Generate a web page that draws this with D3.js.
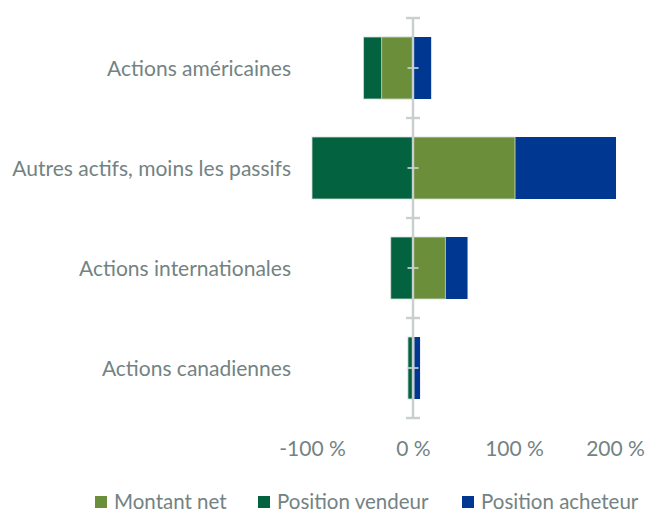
<!DOCTYPE html>
<html>
<head>
<meta charset="utf-8">
<script src="https://cdn.jsdelivr.net/npm/d3@7"></script>
<style>
    body { margin: 0; background: #fff; }
    svg { display: block; font-family: Lato, "Open Sans", sans-serif; }
    .label { fill: #738383; }
</style>
</head>
<body>
<svg id="chart" width="647" height="513"></svg>
<script>
const categories = [
    "Actions américaines",
    "Autres actifs, moins les passifs",
    "Actions internationales",
    "Actions canadiennes"
];
const montantNet = [-31, 101, 32, 1];
const positionVendeur = [-49, -100, -22, -5];
const positionAcheteur = [18, 201, 54, 7];
const tickValues = [-100, 0, 100, 200];
const seriesNames = ["Montant net", "Position vendeur", "Position acheteur"];

const colors = {
    "Montant net": "#6b8e3b",
    "Position vendeur": "#03623f",
    "Position acheteur": "#003790"
};

const svg = d3.select("#chart");

// x: percent, y: one band per category
const x = d3.scaleLinear()
    .domain([-100, 200])
    .range([312, 615]);

const y = d3.scaleBand()
    .domain(categories)
    .range([18, 418])
    .paddingInner(0.38)
    .paddingOuter(0.19);

// Bars overlap (not stacked): the short/long positions first, then the net on top.
const layers = [
    { name: "Position vendeur", values: positionVendeur, stroke: "#d3ddd8" },
    { name: "Position acheteur", values: positionAcheteur, stroke: "none" },
    { name: "Montant net", values: montantNet, stroke: "#d3ddd8" }
];

layers.forEach(layer => {
    svg.append("g")
        .selectAll("rect")
        .data(layer.values)
        .join("rect")
        .attr("x", d => x(Math.min(0, d)))
        .attr("y", (d, i) => y(categories[i]))
        .attr("width", d => Math.abs(x(d) - x(0)))
        .attr("height", y.bandwidth())
        .attr("fill", colors[layer.name])
        .attr("stroke", layer.stroke)
        .attr("stroke-width", 0.8);
});

// Category axis sits on the zero line.
const x0 = x(0);
const axis = svg.append("g").attr("stroke", "#c9cfcf");
const [yTop, yBottom] = y.range();
axis.append("line")
    .attr("x1", x0).attr("x2", x0)
    .attr("y1", yTop).attr("y2", yBottom)
    .attr("stroke-width", 2.4);

// longer ticks on band boundaries, short ones at band centres
const edges = categories.map(c => y(c) - y.step() * y.paddingInner() / 2);
edges.push(yBottom);
axis.selectAll(".edge")
    .data(edges)
    .join("line")
    .attr("x1", x0 - 7).attr("x2", x0 + 7)
    .attr("y1", d => d).attr("y2", d => d)
    .attr("stroke-width", 2.4);
axis.selectAll(".mid")
    .data(categories)
    .join("line")
    .attr("x1", x0 - 5.5).attr("x2", x0 + 5.5)
    .attr("y1", d => y(d) + y.bandwidth() / 2)
    .attr("y2", d => y(d) + y.bandwidth() / 2)
    .attr("stroke-width", 2)
    .attr("stroke-opacity", 0.85);

// Category labels
svg.append("g")
    .selectAll("text")
    .data(categories)
    .join("text")
    .attr("class", "label")
    .attr("x", 291)
    .attr("y", d => y(d) + y.bandwidth() / 2 + 7.5)
    .attr("text-anchor", "end")
    .attr("font-size", 21)
    .text(d => d);

// Percent labels under the chart
const xAxis = svg.append("g")
    .attr("transform", "translate(0,438)")
    .call(d3.axisBottom(x)
        .tickValues(tickValues)
        .tickSize(0)
        .tickFormat(d => `${d} %`));
xAxis.select(".domain").remove();
xAxis.selectAll("text")
    .attr("class", "label")
    .attr("dy", "0.72em")
    .attr("font-size", 21)
    .attr("font-family", "Lato, sans-serif");

// Legend
const legendX = [95, 258, 462];
const legend = svg.append("g")
    .selectAll("g")
    .data(seriesNames)
    .join("g")
    .attr("transform", (d, i) => `translate(${legendX[i]},496)`);
legend.append("rect")
    .attr("width", 12)
    .attr("height", 12)
    .attr("fill", d => colors[d]);
legend.append("text")
    .attr("class", "label")
    .attr("x", 19)
    .attr("y", 12.5)
    .attr("font-size", 20.5)
    .text(d => d);
</script>
</body>
</html>
